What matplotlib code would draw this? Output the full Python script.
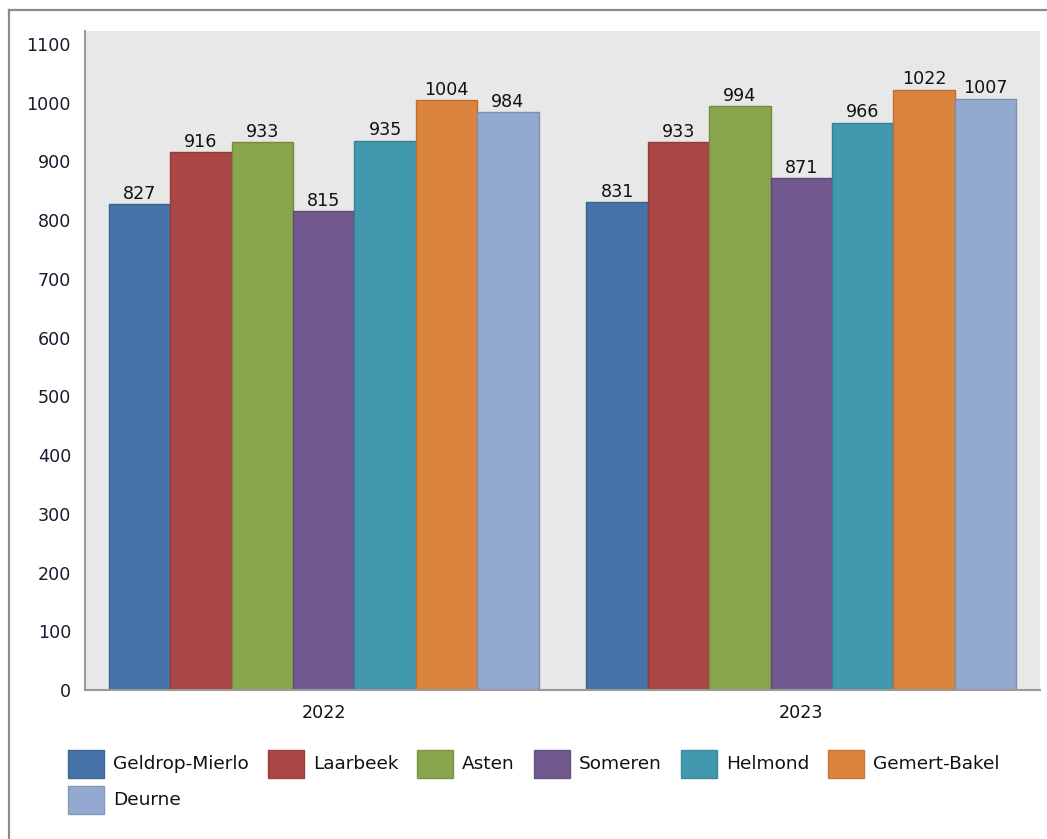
import matplotlib
matplotlib.use("Agg")
import matplotlib.pyplot as plt
import numpy as np
from matplotlib.patches import Rectangle
from matplotlib.lines import Line2D
from matplotlib.colors import to_rgb

years = ["2022", "2023"]
municipalities = ["Geldrop-Mierlo", "Laarbeek", "Asten", "Someren",
                  "Helmond", "Gemert-Bakel", "Deurne"]
values_2022 = [827, 916, 933, 815, 935, 1004, 984]
values_2023 = [831, 933, 994, 871, 966, 1022, 1007]
colors = ["#4572A7", "#AA4643", "#89A54E", "#71588F",
          "#4198AF", "#DB843D", "#93A9CF"]
yticks = [0, 100, 200, 300, 400, 500, 600, 700, 800, 900, 1000, 1100]

W, H = 1047, 839
DPI = 100
plt.rcParams["font.family"] = ["DejaVu Sans"]
FS = 12.6
FS_LEG = 13.3

fig = plt.figure(figsize=(W / DPI, H / DPI), dpi=DPI)
fig.patch.set_facecolor("white")

# Axes rectangle in pixel terms
left, right, top, bottom = 85, 1040, 31, 690
ax = fig.add_axes([left / W, 1 - bottom / H, (right - left) / W, (bottom - top) / H])
ax.set_facecolor("#e8e8e8")

data = np.array([values_2022, values_2023])
n = len(municipalities)
group_w = 0.9
bw = group_w / n
x = np.arange(len(years))


def darker(c, f=0.85):
    r, g, b = to_rgb(c)
    return (r * f, g * f, b * f)


for i, (name, col) in enumerate(zip(municipalities, colors)):
    xs = x - group_w / 2 + bw * (i + 0.5)
    vals = data[:, i]
    ax.bar(xs, vals, width=bw, color=col, edgecolor=darker(col), linewidth=1.0,
           label=name, zorder=2)
    for xv, v in zip(xs, vals):
        ax.annotate(f"{v}", (xv, v), xytext=(0, 1), textcoords="offset points",
                    ha="center", va="bottom", fontsize=FS, color="#111111")

ax.set_xlim(-0.5, 1.5)
ax.set_ylim(0, 1122)
ax.set_yticks(yticks)
ax.set_yticklabels([str(t) for t in yticks], fontsize=FS, color="#1a1a2e")
ax.set_xticks(x)
ax.set_xticklabels(years, fontsize=FS, color="#111111")
ax.tick_params(axis="y", length=0, pad=10)
ax.tick_params(axis="x", length=0, pad=10)
for s in ["top", "right"]:
    ax.spines[s].set_visible(False)
for s in ["left", "bottom"]:
    ax.spines[s].set_color("#9a9a9a")
    ax.spines[s].set_linewidth(1.5)

# Legend laid out left to right, wrapping to a new row
fig.canvas.draw()
renderer = fig.canvas.get_renderer()
sw_w, sw_h = 36, 28
row_pitch = 36
x0, y0 = 68, 750
max_x = 1035
cx, cy = x0, y0
for name, col in zip(municipalities, colors):
    t = fig.text(0, 0, name, fontsize=FS_LEG, color="#111111", va="center", ha="left")
    tw = t.get_window_extent(renderer).width
    if cx + sw_w + 9 + tw > max_x:
        cx = x0
        cy += row_pitch
    fig.add_artist(Rectangle(((cx) / W, 1 - (cy + sw_h) / H), sw_w / W, sw_h / H,
                             transform=fig.transFigure, facecolor=col,
                             edgecolor=darker(col, 0.9), linewidth=1.0))
    t.set_position(((cx + sw_w + 9) / W, 1 - (cy + sw_h / 2) / H))
    cx = cx + sw_w + 9 + tw + 19

# Frame lines at the top and left of the canvas
fig.add_artist(Line2D([9 / W, 9 / W], [0, 1 - 10 / H], transform=fig.transFigure,
                      color="#8c8c8c", linewidth=1.6))
fig.add_artist(Line2D([9 / W, 1], [1 - 10 / H, 1 - 10 / H], transform=fig.transFigure,
                      color="#8c8c8c", linewidth=1.6))

fig.savefig("out.png", dpi=DPI)
